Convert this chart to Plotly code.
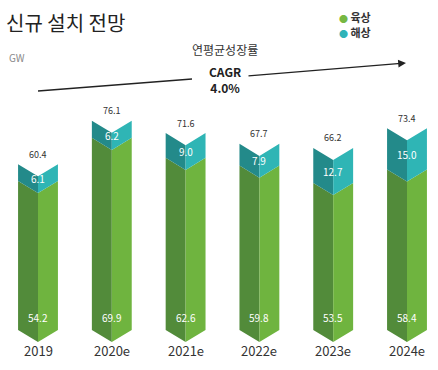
import plotly.graph_objects as go

categories = ["2019", "2020e", "2021e", "2022e", "2023e", "2024e"]
onshore = [54.2, 69.9, 62.6, 59.8, 53.5, 58.4]
offshore = [6.1, 6.2, 9.0, 7.9, 12.7, 15.0]
totals = [60.4, 76.1, 71.6, 67.7, 66.2, 73.4]

W, H = 438, 370
PX_PER_UNIT = 2.75
ZERO_PX = 330
X0_PX, DX_PX = 38, 73.8
HALF = 0.27       # half bar width in category units
NOTCH = 4.4       # chevron depth in value units

def px(xp):
    return xp / W

def py(yp):
    return 1 - yp / H

def halves(lows, highs):
    lx, ly, rx, ry = [], [], [], []
    for i, (lo, hi) in enumerate(zip(lows, highs)):
        lx += [i - HALF, i, i, i - HALF, i - HALF, None]
        ly += [lo, lo - NOTCH, hi - NOTCH, hi, lo, None]
        rx += [i, i + HALF, i + HALF, i, i, None]
        ry += [lo - NOTCH, lo, hi, hi - NOTCH, lo - NOTCH, None]
    return lx, ly, rx, ry

fig = go.Figure()
on_lo = [0] * len(onshore)
on_hi = onshore
off_lo = onshore
off_hi = [a + b for a, b in zip(onshore, offshore)]

for lows, highs, dark, light, name in [
    (on_lo, on_hi, "#528b3a", "#6fb43f", "육상"),
    (off_lo, off_hi, "#238a8a", "#2fb5b5", "해상"),
]:
    lx, ly, rx, ry = halves(lows, highs)
    fig.add_trace(go.Scatter(x=lx, y=ly, fill="toself", fillcolor=dark, mode="lines",
                             line=dict(width=0, color=dark), showlegend=False, name=name,
                             hoverinfo="skip"))
    fig.add_trace(go.Scatter(x=rx, y=ry, fill="toself", fillcolor=light, mode="lines",
                             line=dict(width=0, color=light), showlegend=False, name=name,
                             hoverinfo="skip"))

ann = []
FONT = "Noto Sans CJK KR, Noto Sans, sans-serif"
for i, c in enumerate(categories):
    ann.append(dict(x=i, y=off_hi[i], text=f"{totals[i]:.1f}", showarrow=False,
                    yshift=10, font=dict(size=9, color="#333333", family=FONT)))
    mid = (off_lo[i] + off_hi[i]) / 2 - NOTCH / 2
    ann.append(dict(x=i, y=mid, text=f"{offshore[i]:.1f}", showarrow=False,
                    font=dict(size=10, color="#ffffff", family=FONT)))
    ann.append(dict(x=i, y=4.6, text=f"{onshore[i]:.1f}", showarrow=False,
                    font=dict(size=10, color="#ffffff", family=FONT)))
    ann.append(dict(x=i, y=0, yshift=-20, text=c, showarrow=False,
                    font=dict(size=13, color="#333333", family=FONT)))

def pann(x, y, text, size, color, xanchor="center"):
    return dict(xref="paper", yref="paper", x=px(x), y=py(y), xanchor=xanchor,
                yanchor="middle", text=text, showarrow=False,
                font=dict(size=size, color=color, family=FONT))

ann.append(pann(4, 22, "신규 설치 전망", 20, "#222222", "left"))
ann.append(pann(7, 58, "GW", 10, "#8a8a8a", "left"))
ann.append(pann(225, 50, "연평균성장률", 12, "#333333"))
ann.append(pann(225, 79.5, "<b>CAGR<br>4.0%</b>", 12, "#222222"))
ann.append(dict(xref="paper", yref="paper", x=px(406), y=py(63), ax=247 - 406, ay=76 - 63,
                axref="pixel", ayref="pixel", text="", showarrow=True, arrowhead=2,
                arrowsize=1.2, arrowwidth=1.3, arrowcolor="#222222"))
for k, (lbl, col) in enumerate([("육상", "#77b843"), ("해상", "#2fb3b8")]):
    ann.append(pann(337, 17 + 15 * k,
                    f"<span style='color:{col};font-size:9px'>●</span> <b>{lbl}</b>",
                    11, "#333333", "left"))

shapes = [dict(type="line", xref="paper", yref="paper", x0=px(38), y0=py(91),
               x1=px(192), y1=py(79), line=dict(color="#222222", width=1.3))]

x_lo = -X0_PX / DX_PX
x_hi = (W - X0_PX) / DX_PX
y_hi = ZERO_PX / PX_PER_UNIT
y_lo = -(H - ZERO_PX) / PX_PER_UNIT

fig.update_layout(
    width=W, height=H,
    margin=dict(l=0, r=0, t=0, b=0),
    paper_bgcolor="white", plot_bgcolor="white",
    xaxis=dict(range=[x_lo, x_hi], visible=False, fixedrange=True),
    yaxis=dict(range=[y_lo, y_hi], visible=False, fixedrange=True),
    annotations=ann, shapes=shapes, showlegend=False,
)
fig.write_html("out.html", config={"displayModeBar": False},
               post_script="document.body.style.margin='0';")
